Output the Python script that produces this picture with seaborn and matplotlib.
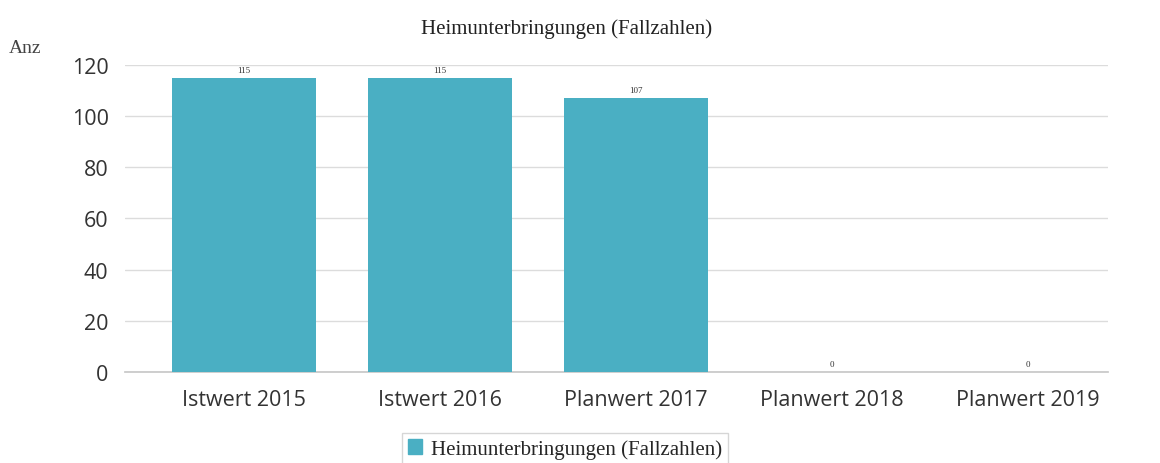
import matplotlib
matplotlib.use("Agg")
import matplotlib.pyplot as plt
import seaborn as sns
import pandas as pd
from matplotlib.patches import Patch

categories = ["Istwert 2015", "Istwert 2016", "Planwert 2017", "Planwert 2018", "Planwert 2019"]
values = [115, 115, 107, 0, 0]
series_name = "Heimunterbringungen (Fallzahlen)"
y_ticks = [0, 20, 40, 60, 80, 100, 120]

bar_color = "#4aafc3"

sns.set_theme(style="white")
df = pd.DataFrame({"Kategorie": categories, "Wert": values})

fig = plt.figure(figsize=(11.6, 4.64), dpi=100)
ax = fig.add_axes([0.108, 0.196, 0.847, 0.662])

sns.barplot(data=df, x="Kategorie", y="Wert", color=bar_color, width=0.735,
            saturation=1, linewidth=0, ax=ax, zorder=3)

ax.set_xlim(-0.607, 4.408)
ax.set_ylim(0, 120)
ax.set_yticks(y_ticks)
ax.yaxis.grid(True, color="#dcdcdc", linewidth=1, zorder=0)
ax.set_axisbelow(True)
for side in ["left", "right", "top"]:
    ax.spines[side].set_visible(False)
ax.spines["bottom"].set_color("#c8c8c8")
ax.set_xlabel("")
ax.set_ylabel("")

tick_font = {"family": "Open Sans", "size": 15.5}
ax.set_xticks(range(len(categories)))
ax.set_xticklabels(categories, fontdict=tick_font, color="#333333")
ax.set_yticklabels([str(t) for t in y_ticks], fontdict=tick_font, color="#333333")
ax.tick_params(axis="y", length=0, pad=12)
ax.tick_params(axis="x", length=0, pad=12)

for i, v in enumerate(values):
    ax.text(i, v + 1.5, str(v), ha="center", va="bottom",
            family="Liberation Serif", fontsize=6.5, color="#333333")

fig.text(0.488, 0.938, series_name, ha="center", va="center",
         family="Liberation Serif", fontsize=15, color="#222222")
fig.text(0.008, 0.895, "Anz", ha="left", va="center",
         family="Liberation Serif", fontsize=14, color="#444444")

handle = Patch(facecolor=bar_color, edgecolor=bar_color)
fig.legend(handles=[handle], labels=[series_name], loc="center",
           bbox_to_anchor=(0.487, 0.03), frameon=True, fancybox=False,
           edgecolor="#cccccc", handlelength=0.7, handleheight=0.7,
           handletextpad=0.4, borderpad=0.3,
           prop={"family": "Liberation Serif", "size": 15})

fig.savefig("out.png", dpi=100, facecolor="white")
